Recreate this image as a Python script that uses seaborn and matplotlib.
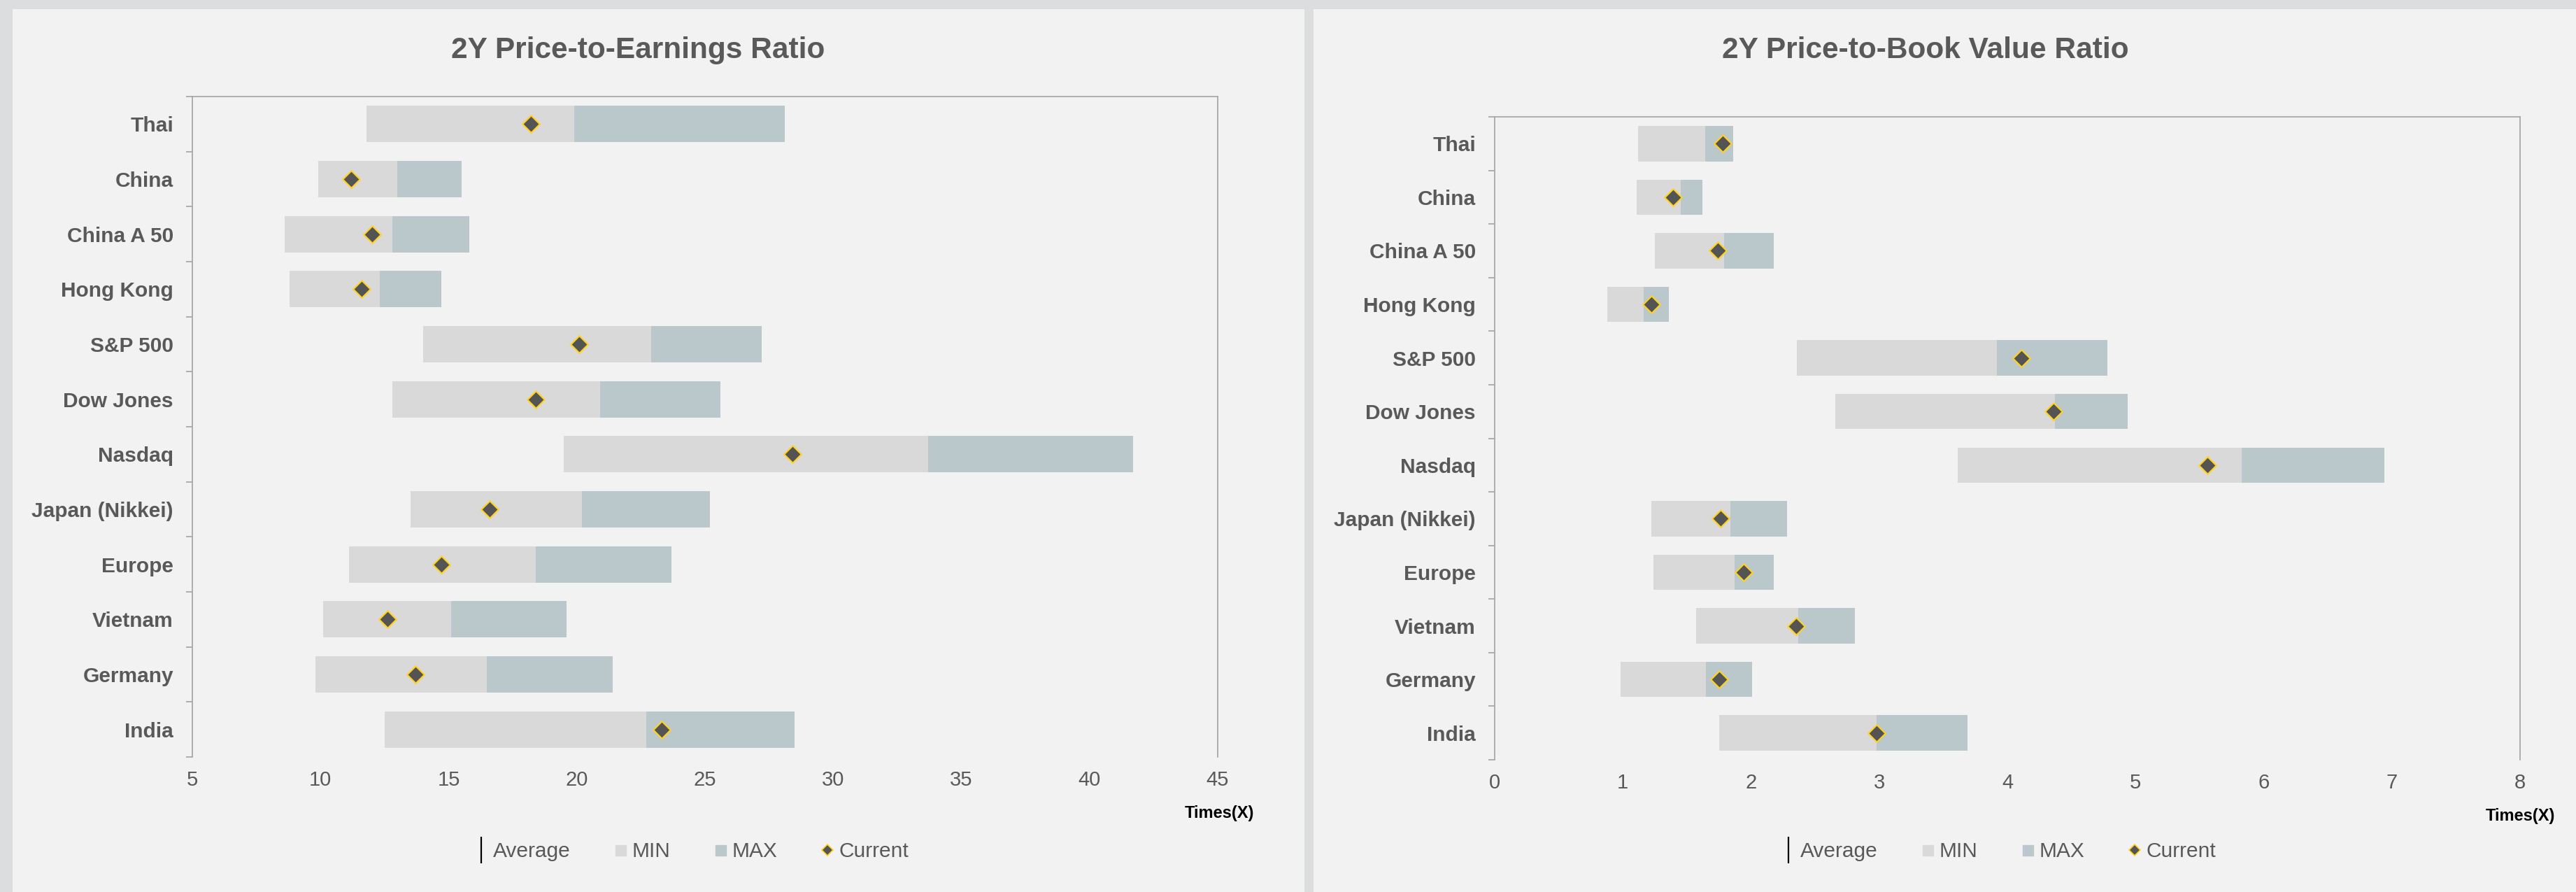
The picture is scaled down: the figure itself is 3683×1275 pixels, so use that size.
import numpy as np
import pandas as pd
import matplotlib
matplotlib.use("Agg")
import matplotlib.pyplot as plt
from matplotlib.lines import Line2D
from matplotlib.patches import Rectangle
from matplotlib.ticker import FixedLocator
import seaborn as sns

# ---------------- data ----------------
markets = ["Thai", "China", "China A 50", "Hong Kong", "S&P 500", "Dow Jones", "Nasdaq",
           "Japan (Nikkei)", "Europe", "Vietnam", "Germany", "India"]

pe_min = [11.8, 9.9, 8.6, 8.8, 14.0, 12.8, 19.5, 13.5, 11.1, 10.1, 9.8, 12.5]
pe_avg = [19.9, 13.0, 12.8, 12.3, 22.9, 20.9, 33.7, 20.2, 18.4, 15.1, 16.5, 22.7]
pe_max = [28.1, 15.5, 15.8, 14.7, 27.2, 25.6, 41.7, 25.2, 23.7, 19.6, 21.4, 28.5]
pe_cur = [18.2, 11.2, 12.0, 11.6, 20.1, 18.4, 28.4, 16.6, 14.7, 12.6, 13.7, 23.3]

pb_min = [1.12, 1.11, 1.25, 0.88, 2.36, 2.66, 3.61, 1.22, 1.24, 1.57, 0.98, 1.75]
pb_avg = [1.64, 1.45, 1.79, 1.16, 3.92, 4.37, 5.83, 1.84, 1.87, 2.37, 1.65, 2.98]
pb_max = [1.86, 1.62, 2.18, 1.36, 4.78, 4.94, 6.94, 2.28, 2.18, 2.81, 2.01, 3.69]
pb_cur = [1.78, 1.39, 1.74, 1.22, 4.11, 4.36, 5.56, 1.76, 1.94, 2.35, 1.75, 2.98]

pe_ticks = [5, 10, 15, 20, 25, 30, 35, 40, 45]
pb_ticks = [0, 1, 2, 3, 4, 5, 6, 7, 8]

titles = ["2Y Price-to-Earnings Ratio", "2Y Price-to-Book Value Ratio"]
legend_labels = ["Average", "MIN", "MAX", "Current"]
unit_label = "Times(X)"

# ---------------- style ----------------
sns.set_theme(style="white")
plt.rcParams["font.family"] = ["Liberation Sans", "DejaVu Sans"]

BG_OUT = "#DCDDDF"
BG_PANEL = "#F2F2F2"
C_MIN = "#D9D9D9"
C_MAX = "#BAC8CC"
C_CUR = "#545454"
C_EDGE = "#FFD21F"
C_TXT = "#595959"
C_SPINE = "#A3A3A3"

W, H = 3683, 1275
fig = plt.figure(figsize=(W / 100, H / 100), dpi=100)
fig.patch.set_facecolor(BG_OUT)
fig.add_artist(Rectangle((18 / W, 0), (1865 - 18) / W, (H - 13) / H, transform=fig.transFigure,
                         facecolor=BG_PANEL, edgecolor="none", zorder=-5))
fig.add_artist(Rectangle((1878 / W, 0), (W - 1878) / W, (H - 13) / H, transform=fig.transFigure,
                         facecolor=BG_PANEL, edgecolor="none", zorder=-5))


def panel(rect, mins, avgs, maxs, curs, ticks, title, title_x, legend_x, unit_xy):
    ax = fig.add_axes(rect)
    ax.set_facecolor(BG_PANEL)
    df = pd.DataFrame({"market": markets, "min": mins, "avg": avgs, "max": maxs, "current": curs})
    common = dict(data=df, y="market", order=markets, orient="h", saturation=1, width=0.66,
                  linewidth=0, edgecolor="none", errorbar=None, ax=ax)
    sns.barplot(x="max", color=C_MAX, **common)
    sns.barplot(x="avg", color=C_MIN, **common)
    sns.barplot(x="min", color=BG_PANEL, **common)
    sns.stripplot(data=df, x="current", y="market", order=markets, orient="h", jitter=False,
                  marker="D", size=12.5, color=C_CUR, edgecolor=C_EDGE, linewidth=1.5,
                  ax=ax, zorder=5)
    ax.set_xlim(ticks[0], ticks[-1])
    ax.set_xticks(ticks)
    ax.set_xticklabels([str(t) for t in ticks])
    ax.set_ylim(len(markets) - 0.5, -0.5)
    ax.set_xlabel("")
    ax.set_ylabel("")
    for s in ["top", "right", "left"]:
        ax.spines[s].set_visible(True)
        ax.spines[s].set_color(C_SPINE)
        ax.spines[s].set_linewidth(1.2)
    ax.spines["bottom"].set_visible(False)
    ax.yaxis.set_minor_locator(FixedLocator(np.arange(-0.5, len(markets), 1)))
    ax.tick_params(axis="y", which="major", length=0, pad=19.5, labelsize=21.5, labelcolor=C_TXT)
    ax.tick_params(axis="y", which="minor", length=6.5, width=1.2, color=C_SPINE, left=True)
    ax.tick_params(axis="x", which="both", length=0, pad=14, labelsize=21, labelcolor=C_TXT)
    for lab in ax.get_yticklabels():
        lab.set_fontweight("bold")

    fig.text(title_x / W, 1 - 83 / H, title, ha="center", va="baseline", fontsize=30.5,
             fontweight="bold", color=C_TXT)
    fig.text(unit_xy[0] / W, 1 - unit_xy[1] / H, unit_label, ha="center", va="center",
             fontsize=17, fontweight="bold", color="black")

    handles = [
        Line2D([], [], color="black", marker="|", linestyle="None", markersize=27, markeredgewidth=1.6),
        Line2D([], [], color=C_MIN, marker="s", linestyle="None", markersize=10.8),
        Line2D([], [], color=C_MAX, marker="s", linestyle="None", markersize=10.8),
        Line2D([], [], color=C_CUR, marker="D", linestyle="None", markersize=8.5,
               markeredgecolor=C_EDGE, markeredgewidth=1.2),
    ]
    fig.legend(handles, legend_labels, loc="center", bbox_to_anchor=(legend_x / W, 1 - 1217 / H),
               ncol=4, frameon=False, fontsize=21.5, labelcolor=C_TXT, handlelength=0.6,
               handletextpad=0.25, columnspacing=2.1, borderpad=0)
    return ax


panel([275 / W, 1 - 1082 / H, (1741 - 275) / W, (1082 - 138) / H],
      pe_min, pe_avg, pe_max, pe_cur, pe_ticks, titles[0], 912, 989, (1743, 1162))
panel([2137 / W, 1 - 1086 / H, (3603 - 2137) / W, (1086 - 167) / H],
      pb_min, pb_avg, pb_max, pb_cur, pb_ticks, titles[1], 2753, 2858, (3603, 1167))

fig.savefig("out.png", dpi=100, facecolor=fig.get_facecolor())
